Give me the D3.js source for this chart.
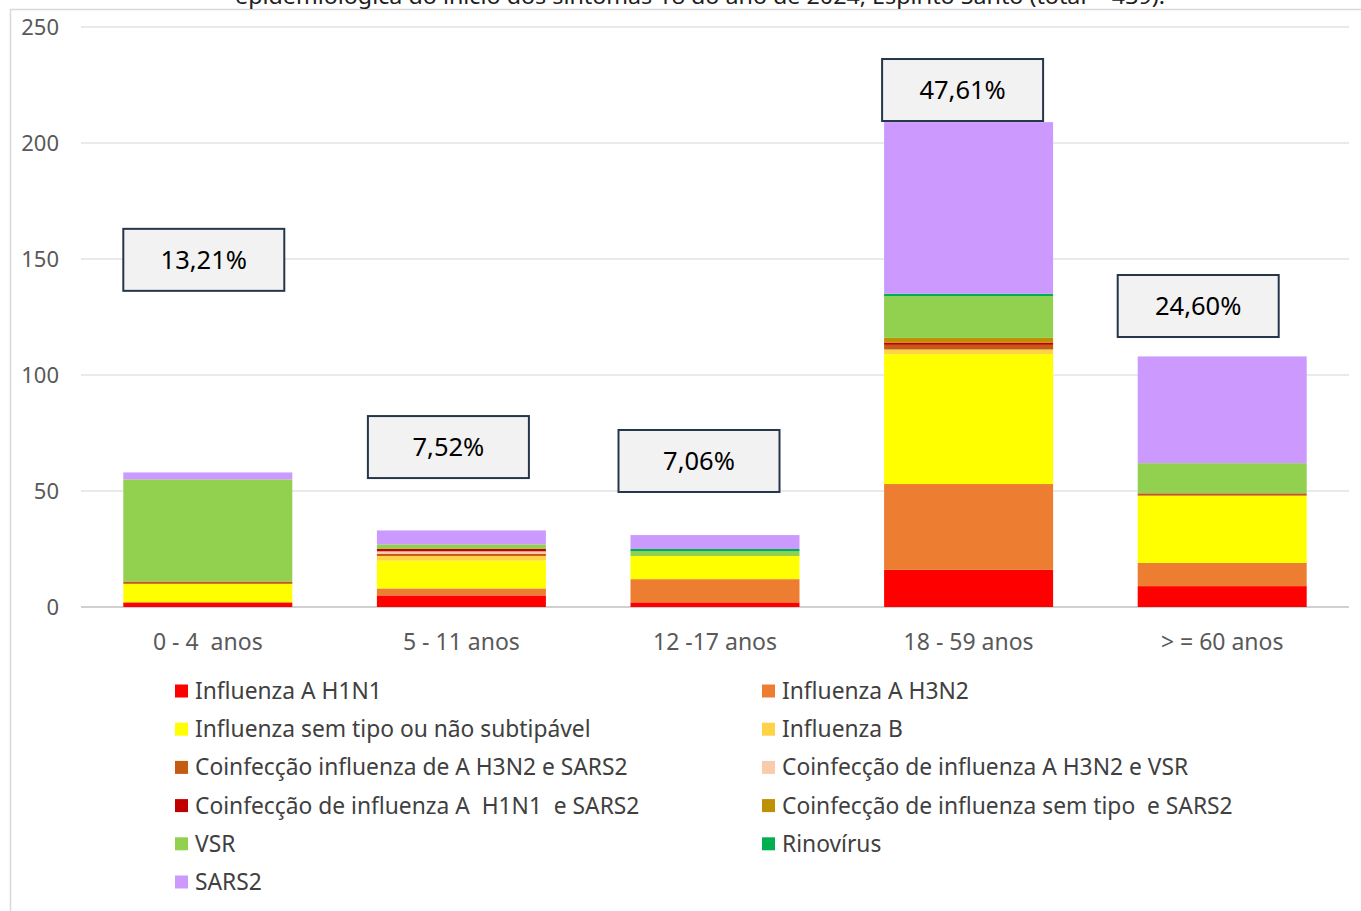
<!DOCTYPE html>
<html><head><meta charset="utf-8">
<script src="https://cdn.jsdelivr.net/npm/d3@7"></script>
<style>
html,body{margin:0;padding:0;background:#fff;}
svg text{font-family:"Noto Sans","Open Sans",sans-serif;white-space:pre;}
</style></head>
<body><svg id="c" width="1361" height="911"></svg>
<script>
// ---- data ----
const categories = ["0 - 4  anos", "5 - 11 anos", "12 -17 anos", "18 - 59 anos", "> = 60 anos"];
const seriesNames = [
  "Influenza A H1N1", "Influenza A H3N2", "Influenza sem tipo ou não subtipável", "Influenza B",
  "Coinfecção influenza de A H3N2 e SARS2", "Coinfecção de influenza A H3N2 e VSR",
  "Coinfecção de influenza A  H1N1  e SARS2", "Coinfecção de influenza sem tipo  e SARS2",
  "VSR", "Rinovírus", "SARS2"
];
const h1n1          = [2, 5, 2, 16, 9];
const h3n2          = [0, 3, 10, 37, 10];
const semTipo       = [8, 12, 10, 56, 29];
const infB          = [0, 2, 0, 2, 0];
const coinfH3Sars   = [1, 1, 0, 2, 1];
const coinfH3Vsr    = [0, 1, 0, 0, 0];
const coinfH1Sars   = [0, 1, 0, 1, 0];
const coinfSemSars  = [0, 0, 0, 2, 0];
const vsr           = [44, 2, 2, 18, 13];
const rino          = [0, 0, 1, 1, 0];
const sars2         = [3, 6, 6, 74, 46];
const percentLabels = ["13,21%", "7,52%", "7,06%", "47,61%", "24,60%"];
const yTicks = [0, 50, 100, 150, 200, 250];
const titleText = "epidemiológica do início dos sintomas 18 do ano de 2024, Espírito Santo (total = 439).";

// ---- styles / layout ----
const colors = ["#FF0000", "#ED7D31", "#FFFF00", "#FFD347", "#C55A11", "#F8CBAD",
                "#C00000", "#BF9000", "#92D050", "#00B050", "#CC99FF"];
const boxTopValue = [163, 82.3, 76.3, 236.2, 143.1];   // annotation placement (value units)
const boxShift = [0, -9, -12, -2, -20];                 // px relative to bar left

const seriesValues = [h1n1, h3n2, semTipo, infB, coinfH3Sars, coinfH3Vsr, coinfH1Sars, coinfSemSars, vsr, rino, sars2];
const rows = categories.map((c, i) => {
  const r = {cat: c};
  seriesNames.forEach((s, j) => r[s] = seriesValues[j][i]);
  return r;
});

const svg = d3.select("#c");
const x = d3.scaleBand().domain(categories).range([81, 1349]).paddingInner(0.3336).paddingOuter(0.1668);
const y = d3.scaleLinear().domain([0, 250]).range([607, 27]);
const color = d3.scaleOrdinal().domain(seriesNames).range(colors);

// frame
svg.append("rect").attr("x", 10.5).attr("y", 9.5).attr("width", 1360).attr("height", 920)
  .attr("fill", "none").attr("stroke", "#D9D9D9").attr("stroke-width", 1.5);

// title (only bottom visible, as in the source)
svg.append("text").attr("x", 700).attr("y", 4).attr("text-anchor", "middle")
  .attr("font-size", 21).attr("fill", "#202020").attr("textLength", 930).attr("lengthAdjust", "spacingAndGlyphs")
  .text(titleText);

// y axis + gridlines
const yAxis = d3.axisLeft(y).tickValues(yTicks).tickSize(0).tickPadding(0);
const ga = svg.append("g").attr("transform", "translate(59,0)").call(yAxis);
ga.select(".domain").remove();
ga.selectAll("text").attr("font-size", 22).attr("fill", "#595959").attr("font-family", "Noto Sans").attr("dy", "0.35em");

svg.append("g").selectAll("line").data(yTicks).join("line")
  .attr("x1", 81).attr("x2", 1349).attr("y1", d => y(d)).attr("y2", d => y(d))
  .attr("stroke", d => d === 0 ? "#D0D0D0" : "#E3E3E3").attr("stroke-width", d => d === 0 ? 2 : 1.5);

// stacked bars
const stack = d3.stack().keys(seriesNames)(rows);
svg.append("g").selectAll("g").data(stack).join("g").attr("fill", d => color(d.key))
  .selectAll("rect").data(d => d).join("rect")
  .attr("x", d => x(d.data.cat)).attr("width", x.bandwidth())
  .attr("y", d => y(d[1])).attr("height", d => y(d[0]) - y(d[1]));

// x axis labels
const xAxis = d3.axisBottom(x).tickSize(0).tickPadding(0);
const gx = svg.append("g").attr("transform", "translate(0,642)").call(xAxis);
gx.select(".domain").remove();
gx.selectAll("text").attr("font-size", 23).attr("fill", "#595959").attr("font-family", "Noto Sans")
  .attr("y", 0).attr("dy", "0.35em").style("white-space", "pre");

// percentage boxes
const boxes = svg.append("g").selectAll("g").data(categories).join("g")
  .attr("transform", (c, i) => `translate(${x(c) + boxShift[i]},${y(boxTopValue[i])})`);
boxes.append("rect").attr("width", 161).attr("height", 62)
  .attr("fill", "#F2F2F2").attr("stroke", "#26364A").attr("stroke-width", 2);
boxes.append("text").attr("x", 80.5).attr("y", 31).attr("dy", "0.35em").attr("text-anchor", "middle")
  .attr("font-size", 25.5).attr("fill", "#000").text((c, i) => percentLabels[i]);

// legend
const leg = svg.append("g").selectAll("g").data(seriesNames).join("g")
  .attr("transform", (d, i) => `translate(${i % 2 === 0 ? 175 : 762},${691 + Math.floor(i / 2) * 38.2})`);
leg.append("rect").attr("x", 0).attr("y", -6.5).attr("width", 13).attr("height", 13).attr("fill", d => color(d));
leg.append("text").attr("x", 20).attr("y", 0).attr("dy", "0.35em").attr("font-size", 22.8)
  .attr("fill", "#404040").text(d => d);
</script></body></html>
